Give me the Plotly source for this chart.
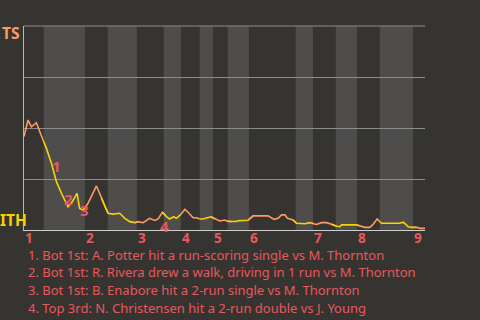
import plotly.graph_objects as go

# Game progress (0-100) and TS win probability (%) after each play
progress = [0, 1.0, 1.85, 3.1, 4.1, 4.93, 5.6, 6.85, 8.1, 9.35, 10.2, 11.0, 12.1, 13.25, 13.9, 14.75,
            15.2, 16.0, 18.1, 19.35, 21.0, 22.25, 23.9, 25.2, 26.4, 27.7,
            28.5, 29.75, 31.4, 32.7, 33.5, 34.6, 35.6, 36.4, 37.4, 38.1, 39.2,
            40.2, 41.0, 42.25, 43.1, 43.9, 44.75, 45.75, 46.85,
            47.7, 48.9, 50.2, 50.75, 51.85, 52.7, 53.9, 56.0,
            57.25, 61.0, 61.85, 62.5, 63.5, 64.35, 65.2, 65.85, 67.25, 68.1, 70.2, 71.4, 72.25,
            73.1, 74.35, 75.6, 76.85, 78.1, 78.9, 79.35, 83.1,
            83.9, 85.2, 86.4, 87.1, 88.25, 88.9, 89.35, 93.9, 94.75, 95.4, 96.0, 96.85,
            98.1, 98.9, 100.2]
ts_win_pct = [45.8, 53.9, 50.6, 52.6, 47.4, 43.3, 40.0, 32.7, 23.7, 18.0, 14.7, 11.4, 13.9, 18.0, 10.6, 9.8,
              10.8, 13.1, 21.6, 15.5, 8.2, 7.8, 8.2, 5.7, 4.1, 3.6,
              4.1, 3.6, 5.7, 4.7, 5.4, 8.7, 6.5, 5.4, 6.5, 5.7, 7.7,
              10.1, 8.7, 6.0, 6.0, 5.4, 5.4, 6.0, 6.4,
              5.4, 4.4, 4.9, 4.3, 4.1, 4.2, 4.6, 4.8,
              6.9, 6.9, 6.0, 5.2, 5.7, 7.4, 7.4, 5.7, 4.9, 3.3, 3.1, 3.6, 3.3,
              2.7, 3.6, 3.6, 2.8, 1.8, 1.6, 2.5, 2.5,
              2.1, 1.3, 1.3, 2.5, 5.4, 4.1, 3.3, 3.3, 3.8, 2.8, 1.6, 1.3,
              1.3, 0.8, 0.8]

# Half-inning boundaries (game progress)
half_starts = [0, 4.93, 15.2, 20.9, 28.2, 34.9, 39.2, 43.9, 47.2, 50.9, 56.2, 67.9, 72.2, 77.9, 83.2, 88.9, 97.2]
game_end = 100.2
inning_labels = ["1", "2", "3", "4", "5", "6", "7", "8", "9"]

# Key events
event_labels = ["1", "2", "3", "4"]
event_x = [8.1, 11.1, 15.2, 35.2]
event_y = [31.6, 15.0, 10.0, 2.2]
event_text = [
    "1. Bot 1st: A. Potter hit a run-scoring single vs M. Thornton",
    "2. Bot 1st: R. Rivera drew a walk, driving in 1 run vs M. Thornton",
    "3. Bot 1st: B. Enabore hit a 2-run single vs M. Thornton",
    "4. Top 3rd: N. Christensen hit a 2-run double vs J. Young",
]

BG = "#363431"
BAND = "#4e4d4b"
ORANGE = "#ff9a66"
YELLOW = "#f7d400"
RED = "#e8585d"
FONT = "Noto Sans"

fig = go.Figure()

ends = half_starts[1:] + [game_end]
for k, (s, e) in enumerate(zip(half_starts, ends)):
    idx = [i for i, x in enumerate(progress) if x >= s - 0.01 and x <= e + 0.01]
    lo = max(0, idx[0] - 1) if progress[idx[0]] > s + 0.01 else idx[0]
    hi = idx[-1]
    if hi + 1 < len(progress) and progress[hi] < e - 0.01:
        hi = hi + 1
    fig.add_trace(go.Scatter(
        x=progress[lo:hi + 1], y=ts_win_pct[lo:hi + 1], mode="lines",
        line=dict(color=ORANGE if k % 2 == 0 else YELLOW, width=1.6),
        hoverinfo="skip", showlegend=False))

shapes = []
for k, (s, e) in enumerate(zip(half_starts, ends)):
    if k % 2 == 1:
        shapes.append(dict(type="rect", xref="x", yref="paper", x0=s, x1=e, y0=0, y1=1,
                           fillcolor=BAND, line=dict(width=0), layer="below"))
shapes.append(dict(type="line", xref="paper", yref="paper", x0=0, x1=1, y0=1, y1=1,
                   line=dict(color="#8c8c8c", width=1), layer="above"))

annotations = []
inning_starts = half_starts[0::2]
for lab, x in zip(inning_labels, inning_starts):
    annotations.append(dict(x=x, y=-0.037, xref="x", yref="paper", text=lab, showarrow=False,
                            xanchor="left", yanchor="middle", xshift=-1,
                            font=dict(family=FONT, size=13.5, color=RED, weight="bold")))
for lab, x, y in zip(event_labels, event_x, event_y):
    annotations.append(dict(x=x, y=y, xref="x", yref="y", text=lab, showarrow=False,
                            xanchor="center", yanchor="middle",
                            font=dict(family=FONT, size=15, color=RED, weight="bold")))
for i, t in enumerate(event_text):
    annotations.append(dict(x=0.005, y=[-0.1225, -0.206, -0.294, -0.382][i], xref="paper", yref="paper",
                            text=t, showarrow=False, xanchor="left", yanchor="middle",
                            font=dict(family=FONT, size=13, color=RED)))
annotations.append(dict(x=-0.06, y=0.966, xref="paper", yref="paper", text="TS", showarrow=False,
                        xanchor="left", yanchor="middle",
                        font=dict(family=FONT, size=15.5, color=ORANGE, weight="bold")))
annotations.append(dict(x=-0.064, y=0.047, xref="paper", yref="paper", text="ITH", showarrow=False,
                        xanchor="left", yanchor="middle",
                        font=dict(family=FONT, size=15.5, color=YELLOW, weight="bold")))

fig.update_layout(
    width=480, height=320,
    margin=dict(l=24, r=55, t=26, b=90),
    paper_bgcolor=BG, plot_bgcolor=BG,
    shapes=shapes, annotations=annotations,
    xaxis=dict(range=[0, game_end], showgrid=False, zeroline=False, showticklabels=False,
               showline=True, linecolor="#cfcfcf", linewidth=1, fixedrange=True),
    yaxis=dict(range=[0, 100], dtick=25, showgrid=True, gridcolor="#8c8c8c", gridwidth=1,
               zeroline=False, showticklabels=False, showline=True, linecolor="#b8b8b8",
               linewidth=1, fixedrange=True),
)

fig.write_html("out.html", config={"displayModeBar": False})
